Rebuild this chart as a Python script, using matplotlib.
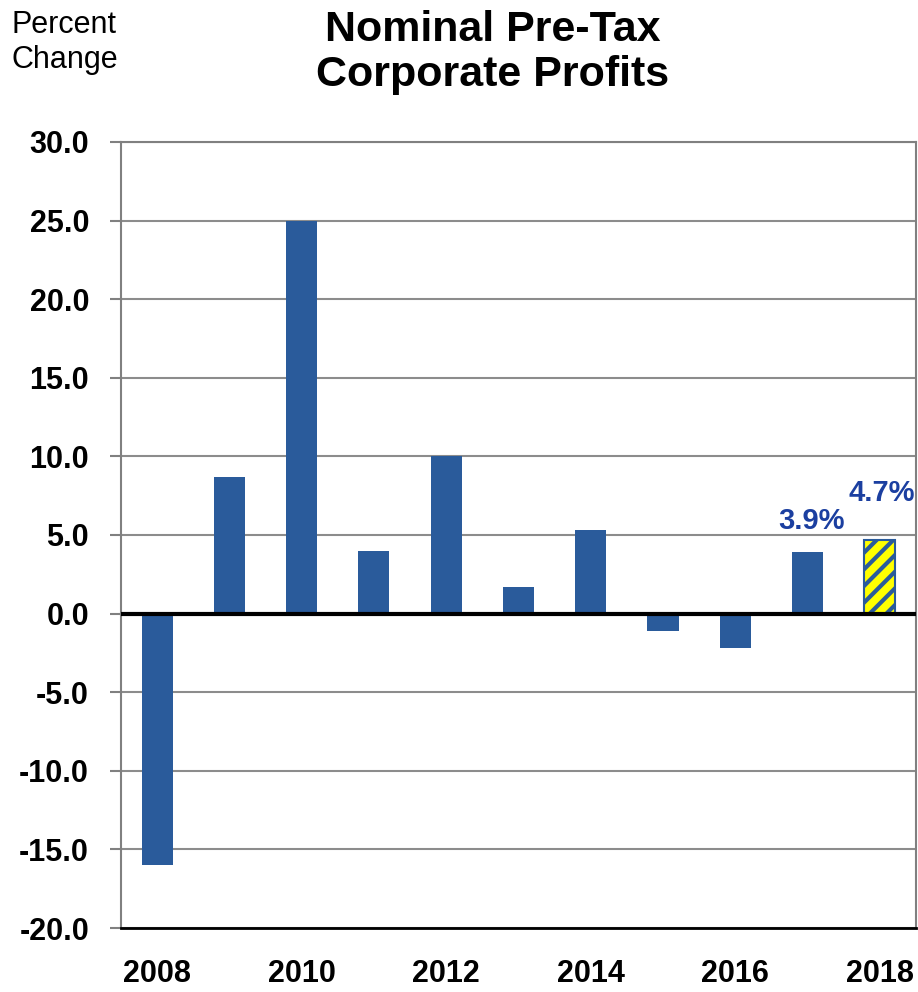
import matplotlib
matplotlib.use("Agg")
import matplotlib.pyplot as plt

years = [2008, 2009, 2010, 2011, 2012, 2013, 2014, 2015, 2016, 2017, 2018]
pct_change = [-16.0, 8.7, 25.0, 4.0, 10.0, 1.7, 5.3, -1.1, -2.2, 3.9, 4.7]
tick_years = [2008, 2010, 2012, 2014, 2016, 2018]
y_ticks = [-20, -15, -10, -5, 0, 5, 10, 15, 20, 25, 30]
labels = {2017: "3.9%", 2018: "4.7%"}

bar_color = "#2A5B9B"
label_color = "#1B3FA0"

plt.rcParams["font.family"] = ["Liberation Sans Narrow", "Liberation Sans", "DejaVu Sans"]
plt.rcParams["hatch.color"] = bar_color
plt.rcParams["hatch.linewidth"] = 3.0

fig = plt.figure(figsize=(9.18, 9.92), dpi=100)
ax = fig.add_axes([0.1318, 0.0645, 0.866, 0.7924])

for yr, val in zip(years, pct_change):
    if yr == 2018:
        ax.bar(yr, val, width=0.43, facecolor="#FFFF00", edgecolor=bar_color,
               hatch="//", linewidth=1.5, zorder=3)
    else:
        ax.bar(yr, val, width=0.43, color=bar_color, zorder=3)

# value labels for the last two years
offsets = {2017: (0.05, 1.1), 2018: (0.03, 2.1)}
for yr, txt in labels.items():
    val = pct_change[years.index(yr)]
    dx, dy = offsets[yr]
    ax.text(yr + dx, val + dy, txt, ha="center", va="bottom", fontsize=21,
            fontweight="bold", color=label_color)

ax.set_xlim(2007.5, 2018.5)
ax.set_ylim(-20, 30)
ax.set_yticks(y_ticks)
ax.set_yticklabels([f"{v:.1f}" for v in y_ticks], fontsize=22, fontweight="bold")
ax.set_xticks(tick_years)
ax.set_xticklabels([str(y) for y in tick_years], fontsize=22, fontweight="bold")
ax.tick_params(axis="x", length=0, pad=22)
ax.tick_params(axis="y", length=8, color="#808080", width=1.5, pad=15)
ax.yaxis.grid(True, color="#8C8C8C", linewidth=1.5, zorder=0)
ax.set_axisbelow(True)
ax.axhline(0, color="black", linewidth=3, zorder=4)
for sp in ax.spines.values():
    sp.set_color("#808080")
    sp.set_linewidth(1.5)
ax.spines["bottom"].set_color("black")
ax.spines["bottom"].set_linewidth(2)

fig.text(0.537, 0.99, "Nominal Pre-Tax\nCorporate Profits", ha="center", va="top",
         fontsize=31, fontweight="bold", linespacing=1.15)
fig.text(0.013, 0.99, "Percent\nChange", ha="left", va="top", fontsize=22,
         linespacing=1.2)

fig.savefig("out.png", dpi=100)
